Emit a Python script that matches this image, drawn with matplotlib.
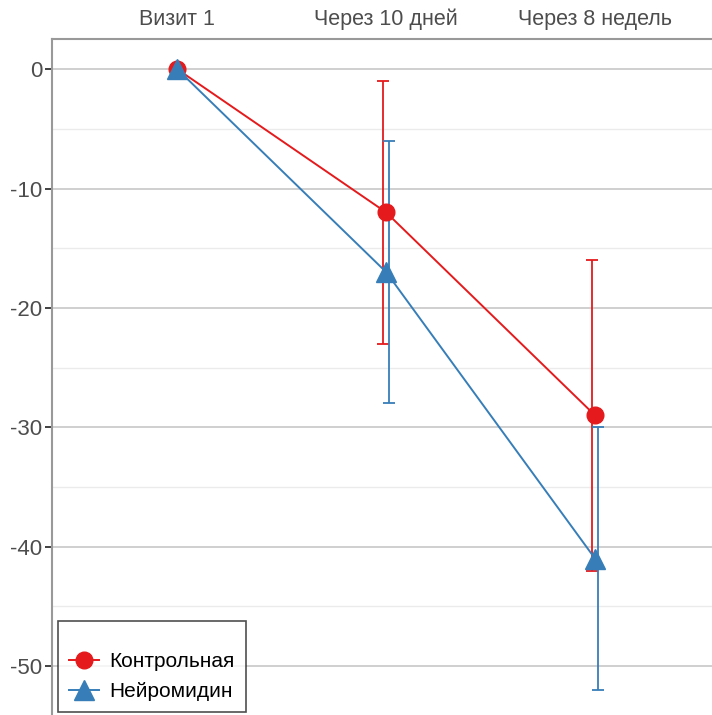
import numpy as np
import matplotlib
matplotlib.use('Agg')
import matplotlib.pyplot as plt
from matplotlib.ticker import MultipleLocator

plt.rcParams['font.family'] = ['Liberation Sans', 'DejaVu Sans']
plt.rcParams['axes.unicode_minus'] = False

# visits and group means with error bar half-widths
visits = ['Визит 1', 'Через 10 дней', 'Через 8 недель']
control_mean = [0, -12, -29]
control_err = [0, 11, 13]
neuro_mean = [0, -17, -41]
neuro_err = [0, 11, 11]

red = '#E41A1C'
blue = '#377EB8'
grid_major = '#CCCCCC'
grid_minor = '#EBEBEB'
txt = '#4D4D4D'

fig = plt.figure(figsize=(7.12, 7.15), dpi=100)
ax = fig.add_axes([0.073, 0.0, 0.927, 0.945])

x = np.arange(1, len(visits) + 1)
dodge = 0.015

ax.errorbar(x[1:] - dodge, control_mean[1:], yerr=control_err[1:], fmt='none',
            ecolor=red, elinewidth=1.3, capsize=4, capthick=1.3, zorder=3)
ax.errorbar(x[1:] + dodge, neuro_mean[1:], yerr=neuro_err[1:], fmt='none',
            ecolor=blue, elinewidth=1.3, capsize=4, capthick=1.3, zorder=3)

ax.plot(x, control_mean, color=red, lw=1.4, marker='o', ms=12,
        label='Контрольная', zorder=4)
ax.plot(x, neuro_mean, color=blue, lw=1.4, marker='^', ms=14,
        label='Нейромидин', zorder=5)

ax.set_xlim(0.40, 3.56)
ax.set_ylim(-54.1, 2.5)

ax.yaxis.set_major_locator(MultipleLocator(10))
ax.yaxis.set_minor_locator(MultipleLocator(5))
ax.grid(which='major', axis='y', color=grid_major, lw=1.3)
ax.grid(which='minor', axis='y', color=grid_minor, lw=1.0)
ax.set_axisbelow(True)

ax.xaxis.tick_top()
ax.set_xticks(x)
ax.set_xticklabels(visits)
ax.tick_params(axis='x', length=0, pad=7, labelsize=15.5, labelcolor=txt)
ax.tick_params(axis='y', which='major', length=5, width=1.3, color='#333333',
               labelsize=16, labelcolor=txt, pad=2)
ax.tick_params(axis='y', which='minor', length=0)

for side in ['bottom', 'right']:
    ax.spines[side].set_visible(False)
for side in ['left', 'top']:
    ax.spines[side].set_color('#999999')
    ax.spines[side].set_linewidth(1.5)

# legend with an empty title row on top
leg = ax.legend(loc='lower left', bbox_to_anchor=(0.009, 0.004), fontsize=15,
                title=' ', title_fontsize=8, borderaxespad=0,
                frameon=True, fancybox=False, borderpad=0.55,
                handlelength=1.4, handletextpad=0.5, labelspacing=0.5)
leg.get_frame().set_edgecolor('#222222')
leg.get_frame().set_linewidth(1.2)

fig.savefig('out.png', dpi=100)
